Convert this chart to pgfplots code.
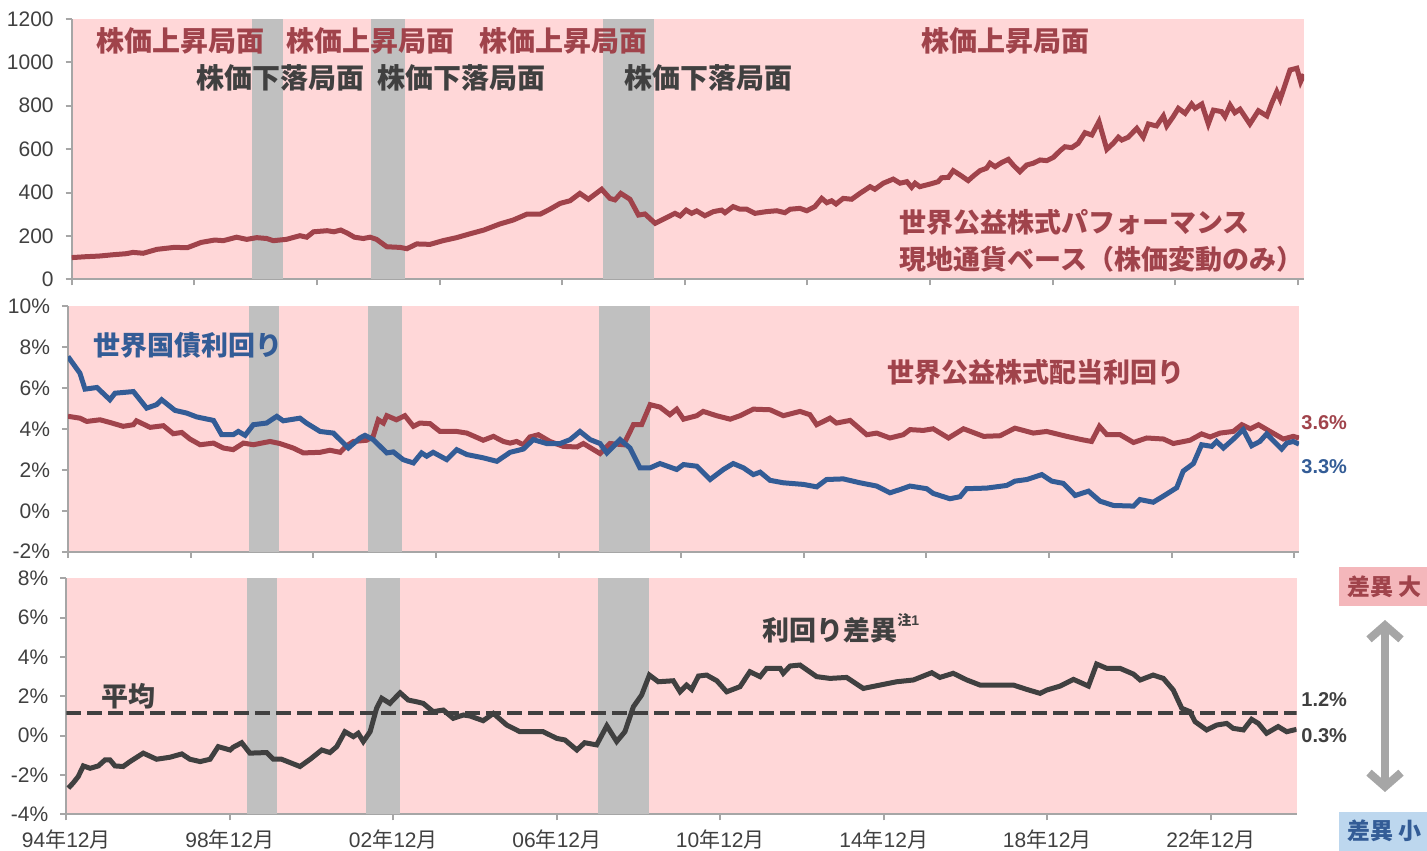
\documentclass[border=0pt]{standalone}
\usepackage{fontspec}
\setmainfont{Liberation Sans}
\newfontfamily\jp{Noto Sans CJK JP}
\usepackage{pgfplots}
\pgfplotsset{compat=1.18}
\usetikzlibrary{arrows.meta}

\definecolor{pinkbg}{HTML}{FFD7D8}
\definecolor{bandgray}{HTML}{C0C0C0}
\definecolor{redline}{HTML}{A0434B}
\definecolor{blueline}{HTML}{335C96}
\definecolor{darkline}{HTML}{404040}
\definecolor{axisgray}{HTML}{A6A6A6}
\definecolor{labelgray}{HTML}{404040}
\definecolor{boxpink}{HTML}{F4B7BB}
\definecolor{boxblue}{HTML}{BDD7EE}

\newcommand{\jb}{\jp\bfseries\fontsize{13.5}{16}\selectfont}
\newcommand{\jbb}{\jp\bfseries\fontsize{14}{16}\selectfont}
\newcommand{\nb}{\bfseries\fontsize{10}{12}\selectfont}

% gray bands = falling markets (months after 1994/12)
\newcommand{\bands}[2]{%
  \addplot[draw=none, fill=bandgray] coordinates {(53,#1)(53,#2)(62,#2)(62,#1)} -- cycle;
  \addplot[draw=none, fill=bandgray] coordinates {(88,#1)(88,#2)(98,#2)(98,#1)} -- cycle;
  \addplot[draw=none, fill=bandgray] coordinates {(156,#1)(156,#2)(171,#2)(171,#1)} -- cycle;
}

\pgfplotsset{
  panel/.style={
    scale only axis, anchor=south west, xmin=0,
    axis x line=bottom, axis y line=left,
    axis line style={-, axisgray, line width=1pt},
    tick style={axisgray, line width=1pt},
    major tick length=3pt, tick align=outside,
    axis background/.style={fill=pinkbg},
    ticklabel style={font=\fontsize{10.5}{12}\selectfont, text=labelgray},
    yticklabel style={xshift=-2.5pt},
    xticklabel style={yshift=-1pt},
    /pgf/number format/assume math mode=true,
    /pgf/number format/1000 sep={},
  },
}

\begin{document}
\begin{tikzpicture}
\useasboundingbox (0pt,0pt) rectangle (713.5pt,425pt);

% ---- top: performance
\begin{axis}[panel, at={(35.85pt,285.35pt)}, width=616.15pt, height=130.15pt,
  xmax=361.8, ymin=0, ymax=1200,
  xtick={0,36,...,360}, xticklabels={},
  ytick={0,200,...,1200}]
\bands{0}{1200}
\addplot[redline, line width=2.5pt] coordinates {
(0,100)(4,104)(8,107)(12,113)(16,118)(18,124)(21,120)(25,138)(30,147)(34,146)(38,170)(42,181)(44.5,178)(48.4,194)(51.4,184)(54.3,192)(57.3,188)(59.2,178)(63,184)(67,201)(69,194)(71,219)(75,224)(77,219)(79,227)(81,212)(83,194)(85.6,188)(87.6,194)(89.5,184)(92.5,150)(96.4,147)(98.4,141)(101.3,163)(105.2,161)(109,178)(113,192)(117,210)(121,227)(125.7,255)(129.6,273)(133.6,300)(137.5,300)(140.4,323)(143.4,350)(146.3,362)(149.2,396)(151.7,369)(155.6,415)(158,373)(159.5,366)(161.2,396)(163.9,369)(166.4,296)(168.3,301)(171.3,258)(173.7,277)(177.1,304)(178.6,292)(180.4,319)(182,304)(183.5,315)(185.9,293)(188.4,312)(190.8,319)(191.8,307)(194.2,335)(196.2,323)(198.2,323)(200.6,304)(204,312)(207,316)(209.4,307)(210.9,323)(213.8,327)(215.8,316)(218.2,335)(220.2,373)(221.7,353)(223.1,362)(224.4,347)(226.5,373)(229,369)(231.4,396)(234.4,427)(235.8,415)(238.3,443)(241.2,462)(243.2,443)(245.2,450)(246.6,424)(247.6,443)(249,427)(252,439)(254.4,450)(255.4,468)(257.4,470)(258.8,501)(260.8,481)(263.2,455)(264.7,476)(266.7,501)(268.6,512)(269.6,535)(271.1,519)(273,538)(275,553)(276.4,527)(278.4,496)(280.4,527)(282.3,535)(284.3,550)(286.3,547)(288.2,562)(290.2,593)(291.6,611)(293.6,607)(295.5,627)(297.5,676)(299.5,665)(301.6,727)(303.9,599)(305.8,627)(307.3,655)(308.3,642)(310.2,655)(312.7,696)(314.6,655)(316.1,716)(318.5,707)(320.5,753)(321.5,707)(323.4,750)(324.9,788)(326.9,765)(328.8,808)(329.8,788)(331.8,808)(333.7,716)(335.2,780)(337.6,773)(338.6,750)(340.1,803)(341.5,768)(343,784)(345.9,716)(348.4,777)(350.9,753)(352.3,811)(353.8,865)(354.8,830)(357.7,965)(359.7,973)(360.8,911)(361.8,945)};
\end{axis}

% ---- middle: yields
\begin{axis}[panel, at={(34pt,149.15pt)}, width=615.5pt, height=122.7pt,
  xmax=361.4, ymin=-2, ymax=10,
  xtick={0,36,...,360}, xticklabels={},
  ytick={-2,0,2,4,6,8,10},
  yticklabels={-2\%,0\%,2\%,4\%,6\%,8\%,10\%}]
\bands{-2}{10}
\addplot[redline, line width=2.5pt] coordinates {
(0,4.62)(3.5,4.53)(5.5,4.37)(9.4,4.45)(12.3,4.32)(16.2,4.13)(19.2,4.21)(20.1,4.40)(24.1,4.08)(28,4.16)(30.9,3.77)(33.4,3.83)(35.8,3.51)(38.8,3.23)(42.7,3.31)(45.6,3.07)(48.5,2.99)(51.5,3.31)(54.4,3.23)(59.3,3.39)(62.2,3.29)(66.1,3.07)(69.1,2.83)(74,2.86)(76.9,2.96)(79.9,2.86)(81.8,3.18)(83.8,3.39)(87.7,3.45)(89.6,3.64)(91.1,4.45)(92.6,4.29)(93.6,4.65)(96.4,4.45)(98.9,4.65)(101.4,4.13)(103.3,4.29)(106.3,4.26)(109.2,3.88)(114.1,3.88)(117.1,3.80)(121.9,3.45)(124.9,3.64)(127.8,3.39)(129.8,3.31)(131.7,3.39)(133.7,3.23)(135.6,3.61)(138.1,3.72)(141.5,3.39)(145.4,3.15)(149.4,3.12)(151.3,3.29)(156.2,2.80)(159.1,3.29)(163.1,3.23)(166,4.21)(168.4,4.21)(170.9,5.19)(173.8,5.07)(176.7,4.70)(178.7,4.97)(180.7,4.48)(184.6,4.65)(186.5,4.86)(190.4,4.65)(194.4,4.48)(197.3,4.65)(201.2,4.97)(206.1,4.94)(210,4.65)(214.9,4.86)(217.8,4.70)(219.8,4.21)(223.7,4.53)(225.6,4.29)(229.6,4.42)(234.5,3.72)(237.4,3.80)(241.3,3.56)(245.2,3.72)(247.2,3.97)(251.1,3.93)(254,4.01)(258.5,3.56)(262.9,4.01)(268.8,3.64)(273.6,3.67)(278,4.04)(283.4,3.80)(287.3,3.88)(293.2,3.64)(297.6,3.48)(300.5,3.39)(302.8,4.13)(305,3.72)(308.9,3.72)(312.8,3.34)(316.7,3.56)(321.6,3.51)(324.5,3.29)(329.4,3.45)(332.8,3.76)(335.3,3.61)(338.2,3.80)(342.1,3.88)(344.6,4.21)(347.1,4.01)(349.5,4.21)(352.9,3.88)(356.8,3.51)(359.7,3.64)(361.4,3.56)};
\addplot[blueline, line width=2.5pt] coordinates {
(0,7.54)(3.5,6.73)(5,5.95)(8.5,6.03)(12.3,5.43)(13.8,5.75)(19.2,5.83)(23.1,5.02)(26,5.19)(27.5,5.43)(31.4,4.91)(34.8,4.78)(37.8,4.59)(42.7,4.42)(45.1,3.72)(48.5,3.72)(50,3.88)(52,3.69)(54.4,4.21)(58.3,4.29)(61.3,4.62)(63.2,4.40)(68.1,4.53)(70,4.29)(74,3.88)(77.9,3.80)(82.3,3.07)(85.7,3.56)(87.2,3.69)(89.6,3.48)(93.6,2.83)(95.5,2.88)(98.4,2.50)(101.4,2.34)(103.8,2.83)(105.3,2.67)(107.2,2.86)(111.2,2.50)(114.1,2.99)(117.1,2.75)(121.9,2.59)(125.9,2.42)(129.8,2.86)(133.7,3.02)(136.6,3.48)(140.5,3.29)(144.5,3.29)(147.4,3.48)(150.3,3.88)(153.3,3.48)(156.2,3.29)(158.2,2.83)(162.1,3.48)(165,3.07)(167.9,2.10)(170.9,2.10)(173.8,2.31)(178.7,2.02)(180.7,2.26)(184.6,2.18)(188.5,1.53)(192.4,2.02)(195.3,2.31)(198.3,2.10)(201.2,1.77)(203.2,1.89)(206.1,1.49)(210,1.37)(215.9,1.29)(219.8,1.17)(222.7,1.53)(227.6,1.56)(232.5,1.37)(237.4,1.21)(241.3,0.88)(244.3,1.04)(247.2,1.21)(252.1,1.08)(254,0.85)(258.9,0.59)(261.9,0.69)(263.8,1.08)(269.7,1.11)(275.6,1.24)(278,1.45)(281.5,1.53)(285.9,1.77)(288.8,1.45)(292.2,1.34)(295.7,0.75)(299.6,0.96)(303,0.47)(306.9,0.26)(312.8,0.23)(314.7,0.55)(318.6,0.42)(321.6,0.72)(325.5,1.13)(327.4,1.94)(330.4,2.31)(332.8,3.23)(335.8,3.15)(337.2,3.39)(339.2,3.07)(342.1,3.50)(345,3.97)(347.5,3.18)(349.9,3.39)(351.9,3.76)(356.3,3.02)(357.8,3.31)(359.7,3.39)(361.4,3.26)};
\end{axis}

% ---- bottom: spread
\begin{axis}[panel, at={(33.15pt,17.85pt)}, width=615.2pt, height=118pt,
  xmax=361.25, ymin=-4, ymax=8,
  xtick={0,48,...,336},
  xticklabels={94{\jp 年}12{\jp 月},98{\jp 年}12{\jp 月},02{\jp 年}12{\jp 月},06{\jp 年}12{\jp 月},10{\jp 年}12{\jp 月},14{\jp 年}12{\jp 月},18{\jp 年}12{\jp 月},22{\jp 年}12{\jp 月}},
  ytick={-4,-2,0,2,4,6,8},
  yticklabels={-4\%,-2\%,0\%,2\%,4\%,6\%,8\%}]
\bands{-4}{8}
\addplot[darkline, line width=2pt, dash pattern=on 7.5pt off 3pt] coordinates {(0,1.17)(361.25,1.17)};
\addplot[darkline, line width=2.5pt] coordinates {
(0.6,-2.67)(2,-2.41)(3.5,-2.08)(5,-1.54)(7,-1.66)(9.4,-1.54)(11.4,-1.23)(12.8,-1.23)(14.3,-1.54)(16.7,-1.57)(18.7,-1.32)(22.6,-0.89)(26.5,-1.20)(30.4,-1.10)(33.9,-0.93)(36.3,-1.20)(39.3,-1.32)(42.2,-1.20)(44.6,-0.56)(48.1,-0.73)(49,-0.59)(51.5,-0.36)(53.9,-0.89)(58.8,-0.86)(60.8,-1.20)(63.2,-1.20)(65.7,-1.37)(68.6,-1.57)(71.6,-1.20)(75,-0.73)(77.4,-0.86)(79.4,-0.56)(81.8,0.20)(84.3,-0.05)(85.7,0.12)(87.2,-0.30)(89.2,0.20)(91.1,1.39)(92.6,1.90)(95,1.64)(98,2.18)(100.4,1.81)(102.9,1.72)(104.8,1.64)(107.7,1.22)(110.7,1.30)(113.6,0.88)(116.6,1.05)(118.5,1.00)(122.4,0.76)(125.4,1.13)(129.3,0.54)(133.2,0.20)(140,0.20)(144,-0.14)(146.4,-0.22)(149.9,-0.73)(152.2,-0.36)(155.7,-0.47)(158.7,0.50)(161.6,-0.30)(164,0.20)(166.5,1.47)(168.9,2.06)(171.2,3.08)(173.8,2.74)(178.2,2.79)(180.2,2.23)(182.1,2.57)(183.6,2.35)(185.6,3.03)(188,3.08)(191,2.79)(193.9,2.23)(197.8,2.49)(200.7,3.25)(203.7,3.00)(205.6,3.42)(209.6,3.42)(210.5,3.17)(212.5,3.54)(215.4,3.59)(220.3,3.00)(224.2,2.91)(229.1,2.96)(234,2.40)(238.9,2.57)(243.8,2.74)(248.7,2.83)(254.1,3.20)(256.5,2.96)(260.4,3.17)(264.4,2.83)(268.3,2.57)(274.2,2.57)(278.1,2.57)(282,2.35)(285.9,2.15)(287.9,2.32)(291.8,2.52)(295.7,2.86)(300.1,2.52)(302.5,3.64)(305.5,3.42)(309.4,3.42)(313.3,3.13)(315.3,2.83)(319.1,3.08)(322.1,2.91)(325,2.32)(327.5,1.39)(329.9,1.22)(331.4,0.71)(334.8,0.29)(337.8,0.54)(340.7,0.62)(342.6,0.37)(345.6,0.29)(348,0.83)(350,0.62)(352.4,0.12)(355.8,0.46)(358.3,0.20)(361.2,0.32)};
\end{axis}

% ---- annotations (pixel grid of the reference, origin bottom left)
\begin{scope}[x=0.5pt, y=0.5pt, every node/.style={inner sep=0pt}]
\node[text=redline] at (180.5,809.3) {\jbb 株価上昇局面};
\node[text=redline] at (370,809.3) {\jbb 株価上昇局面};
\node[text=redline] at (563.7,809.3) {\jbb 株価上昇局面};
\node[text=redline] at (1005.8,809.3) {\jbb 株価上昇局面};
\node[text=darkline] at (280,772.5) {\jbb 株価下落局面};
\node[text=darkline] at (461.5,772.5) {\jbb 株価下落局面};
\node[text=darkline] at (708.3,772.5) {\jbb 株価下落局面};
\node[text=redline, anchor=west] at (899,627.5) {\jb 世界公益株式パフォーマンス};
\node[text=redline, anchor=west] at (899,591) {\jb 現地通貨ベース（株価変動のみ）};
\node[text=blueline] at (188.3,504.5) {\jb 世界国債利回り};
\node[text=redline] at (1036,477.5) {\jb 世界公益株式配当利回り};
\node[text=redline, anchor=west] at (1301,427) {\nb 3.6\%};
\node[text=blueline, anchor=west] at (1301,383) {\nb 3.3\%};
\node[text=darkline] at (128.3,154) {\jb 平均};
\node[text=darkline, anchor=west] at (762,222) {\jb 利回り差異\raisebox{0.55em}{\fontsize{7}{8}\selectfont 注\bfseries\rmfamily 1}};
\node[text=darkline, anchor=west] at (1301,150) {\nb 1.2\%};
\node[text=darkline, anchor=west] at (1301,114.5) {\nb 0.3\%};
\fill[boxpink] (1339.3,244.3) rectangle (1440,282.7);
\node[text=redline, anchor=west] at (1347,263.5) {\jp\bfseries\fontsize{11.5}{13}\selectfont 差異 大};
\fill[boxblue] (1339.3,-5) rectangle (1440,38.3);
\node[text=blueline, anchor=west] at (1347,19) {\jp\bfseries\fontsize{11.5}{13}\selectfont 差異 小};
\draw[axisgray, line width=4pt, {Straight Barb[length=7pt, width=16pt]}-{Straight Barb[length=7pt, width=16pt]}] (1385,230) -- (1385,58);
\end{scope}
\end{tikzpicture}
\end{document}
